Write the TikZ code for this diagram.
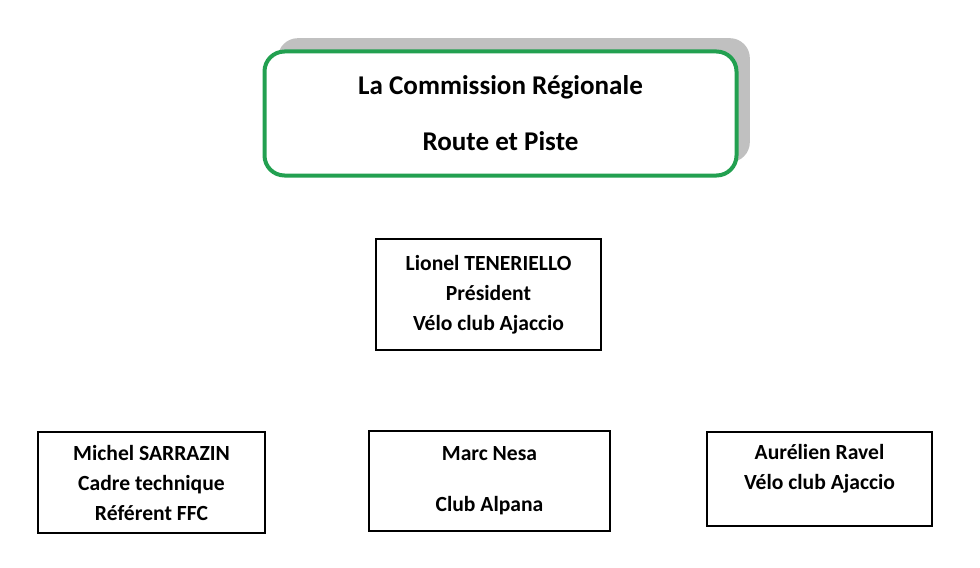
\documentclass[tikz,border=0pt]{standalone}
\usepackage{fontspec}
\setmainfont{Carlito}
\usetikzlibrary{shadows}
\definecolor{commgreen}{RGB}{34,160,80}
\definecolor{shadowgray}{RGB}{192,192,192}
\tikzset{
  titlebox/.style={draw=commgreen, line width=3pt, rounded corners=15pt, fill=white,
    align=center, inner sep=0pt, font=\bfseries\fontsize{20.3}{42}\selectfont,
    drop shadow={shadow xshift=10pt, shadow yshift=10pt, fill=shadowgray, opacity=1}},
  membox/.style={draw=black, line width=1.3pt, fill=white, align=center, inner sep=0pt,
    font=\bfseries\fontsize{16.2}{22.5}\selectfont}
}
\begin{document}
\begin{tikzpicture}[x=0.75pt,y=-0.75pt]
\useasboundingbox[fill=white] (0,0) rectangle (980,567);
% title
\node[titlebox, minimum width=354pt, minimum height=93pt] (title) at (500.5,113.5)
  {La Commission Régionale\\Route et Piste};
% president
\node[membox, minimum width=168.75pt, minimum height=83.25pt] (president) at (488.5,294.5)
  {Lionel TENERIELLO\\Président\\Vélo club Ajaccio};
% members
\node[membox, minimum width=170.25pt, minimum height=75.75pt] (sarrazin) at (151.5,482.5)
  {Michel SARRAZIN\\Cadre technique\\Référent FFC};
\node[membox, minimum width=180.75pt, minimum height=75pt] (nesa) at (489.5,481)
  {Marc Nesa\\[15.75pt]Club Alpana};
\node[membox, minimum width=168.75pt, minimum height=70.5pt] (ravel) at (819.5,479)
  {Aurélien Ravel\\Vélo club Ajaccio\\[-4pt]\mbox{}};
\end{tikzpicture}
\end{document}
